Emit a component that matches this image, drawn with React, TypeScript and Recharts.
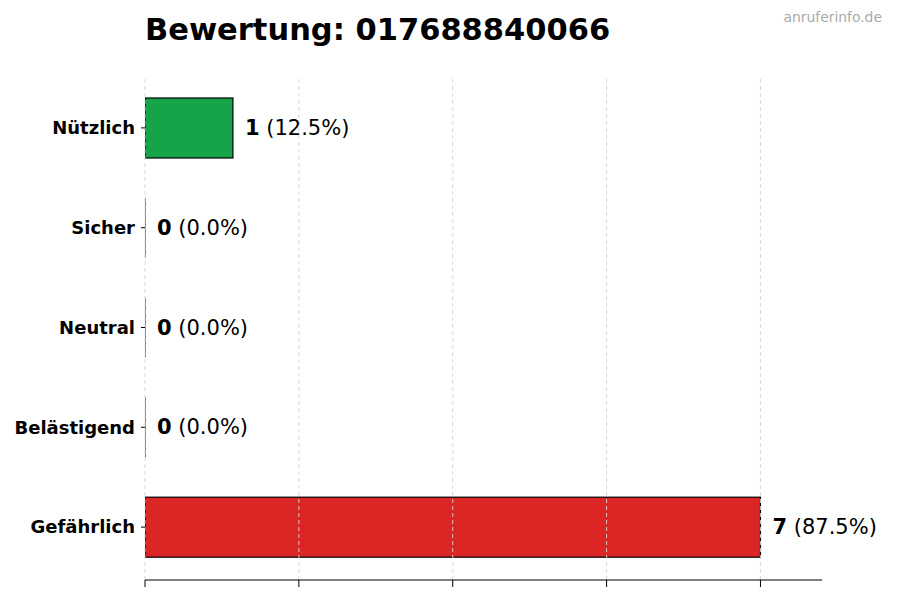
import React from 'react';
import { BarChart, Bar, XAxis, YAxis, ReferenceLine, LabelList, Cell } from 'recharts';

const categories = ['Nützlich', 'Sicher', 'Neutral', 'Belästigend', 'Gefährlich'];
const counts = [1, 0, 0, 0, 7];
const barColors = ['#16a34a', '#2563eb', '#9ca3af', '#f59e0b', '#dc2626'];
const xTicks = [0, 1.75, 3.5, 5.25, 7];
const xMax = 7.7;
const phoneNumber = '017688840066';

const total = counts.reduce((a, b) => a + b, 0);
const data = categories.map((name, i) => ({
  name,
  count: counts[i],
  pct: total ? (counts[i] / total) * 100 : 0,
}));

const FONT = '"DejaVu Sans", sans-serif';

const BarShape = (props: any) => {
  const { x, y, width, height, fill } = props;
  if (!width || width < 0.5) {
    return <line x1={x} x2={x} y1={y} y2={y + height} stroke="#000" strokeWidth={1} />;
  }
  return <rect x={x} y={y} width={width} height={height} fill={fill} stroke="#000" strokeWidth={1.2} />;
};

const ValueLabel = (props: any) => {
  const { x, y, width, height, index } = props;
  const d = data[index];
  return (
    <text
      x={x + width + 12}
      y={y + height / 2}
      dominantBaseline="central"
      fontFamily={FONT}
      fontSize={21}
      fill="#000"
    >
      <tspan fontWeight="bold">{d.count}</tspan>
      <tspan> ({d.pct.toFixed(1)}%)</tspan>
    </text>
  );
};

const NoTick = () => <g />;

export default function App() {
  return (
    <div style={{ position: 'absolute', left: 0, top: 0, width: 900, height: 600, background: '#fff' }}>
      <BarChart
        width={900}
        height={600}
        data={data}
        layout="vertical"
        margin={{ top: 78, right: 78, bottom: 0, left: 0 }}
        barCategoryGap={0}
      >
        <XAxis
          type="number"
          domain={[0, xMax]}
          ticks={xTicks}
          tick={NoTick}
          tickSize={7}
          height={20}
          axisLine={{ stroke: '#000', strokeWidth: 1.2 }}
          tickLine={{ stroke: '#000', strokeWidth: 1 }}
          allowDataOverflow
        />
        <YAxis
          type="category"
          dataKey="name"
          width={145}
          axisLine={false}
          padding={{ top: 0, bottom: 3 }}
          tickSize={4}
          tickMargin={6}
          tickLine={{ stroke: '#000' }}
          tick={{ fill: '#000', fontSize: 18, fontWeight: 'bold', fontFamily: FONT }}
        />
        <Bar dataKey="count" barSize={60} shape={BarShape} isAnimationActive={false}>
          {data.map((d, i) => (
            <Cell key={d.name} fill={barColors[i]} />
          ))}
          <LabelList dataKey="count" content={ValueLabel} />
        </Bar>
        {xTicks.map((t) => (
          <ReferenceLine key={t} x={t} stroke="#d4d4d4" strokeDasharray="4 3" strokeWidth={0.9} />
        ))}
      </BarChart>
      <svg width={900} height={600} style={{ position: 'absolute', left: 0, top: 0, pointerEvents: 'none' }}>
        <text x={145} y={40} fontFamily={FONT} fontSize={30.5} fontWeight="bold" fill="#000">
          Bewertung: {phoneNumber}
        </text>
        <text x={882} y={22} textAnchor="end" fontFamily={FONT} fontSize={13.9} fill="#aaaaaa">
          anruferinfo.de
        </text>
      </svg>
    </div>
  );
}
